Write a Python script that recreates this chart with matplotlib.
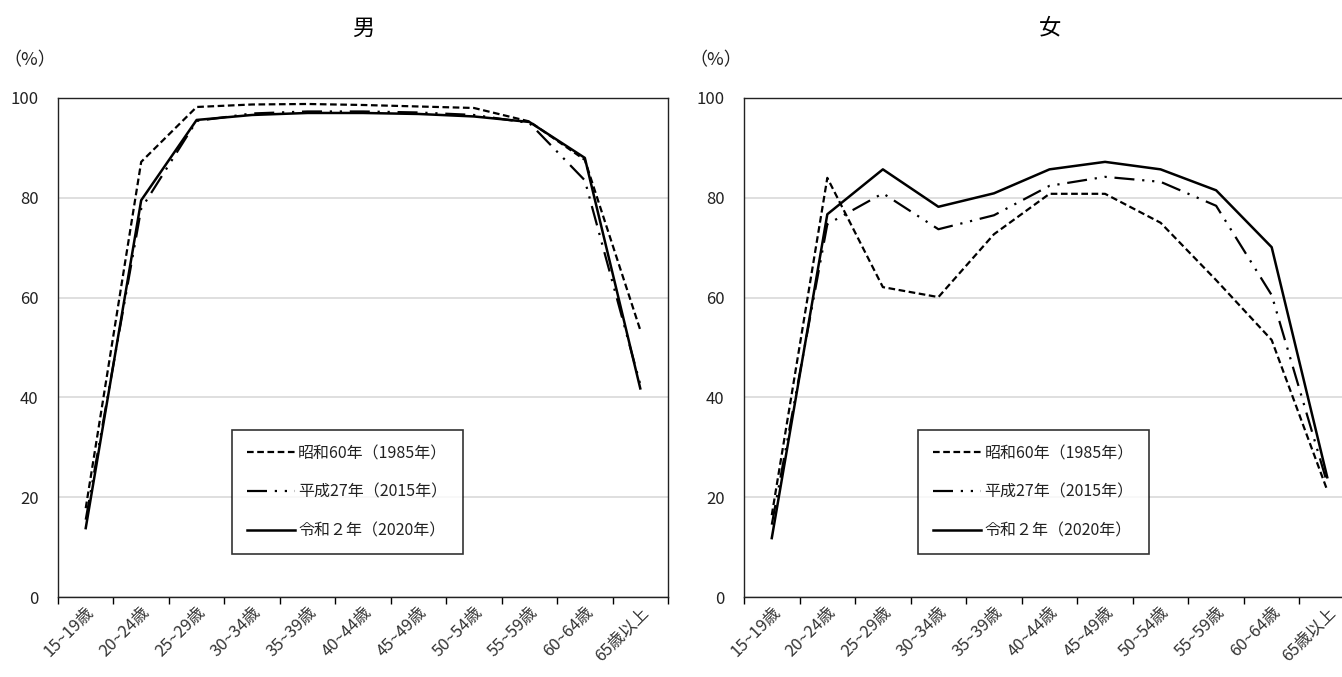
import matplotlib
matplotlib.use("Agg")
import matplotlib.pyplot as plt
import numpy as np

plt.rcParams['font.family'] = ['Noto Sans CJK JP', 'DejaVu Sans']

# age groups
ages = ["15~19歳", "20~24歳", "25~29歳", "30~34歳", "35~39歳", "40~44歳",
        "45~49歳", "50~54歳", "55~59歳", "60~64歳", "65歳以上"]

# labour force participation rate (%)
male_1985 = [17.8, 87.2, 98.2, 98.7, 98.8, 98.6, 98.3, 98.0, 95.3, 87.6, 53.5]
male_2015 = [15.5, 77.8, 95.4, 96.9, 97.3, 97.3, 97.1, 96.6, 95.0, 83.5, 42.6]
male_2020 = [13.8, 79.5, 95.6, 96.6, 97.0, 97.0, 96.8, 96.3, 95.2, 88.0, 41.8]

female_1985 = [16.4, 84.0, 62.1, 60.1, 72.7, 80.8, 80.8, 75.0, 63.5, 51.5, 21.4]
female_2015 = [14.5, 74.7, 80.9, 73.7, 76.5, 82.4, 84.2, 83.2, 78.4, 60.5, 22.8]
female_2020 = [11.8, 76.7, 85.7, 78.2, 80.9, 85.7, 87.2, 85.7, 81.5, 70.1, 24.0]

series_labels = ["昭和60年（1985年）", "平成27年（2015年）", "令和２年（2020年）"]
styles = [dict(linestyle=(0, (3, 1.6)), lw=1.6),
          dict(linestyle=(0, (9, 3.5, 1, 3.5, 1, 3.5)), lw=1.6),
          dict(linestyle='-', lw=1.8)]

W, H = 1342, 677
fig = plt.figure(figsize=(W / 100, H / 100), dpi=100)


def panel(left_px, right_px, data, title):
    ax = fig.add_axes([left_px / W, (H - 597) / H,
                       (right_px - left_px) / W, 499 / H])
    x = np.arange(len(ages))
    for vals, lab, st in zip(data, series_labels, styles):
        ax.plot(x, vals, color='black', label=lab, **st)

    ax.set_xlim(-0.5, len(ages) - 0.5)
    ax.set_ylim(0, 100)
    ax.set_yticks(range(0, 101, 20))
    ax.tick_params(axis='y', length=0, pad=14, labelsize=12, labelcolor='#222222')
    ax.yaxis.grid(True, color='#d9d9d9', lw=1.2)
    ax.set_axisbelow(True)

    # tick marks between categories, labels at category centres
    ax.set_xticks(np.arange(-0.5, len(ages), 1.0))
    ax.set_xticklabels([])
    ax.tick_params(axis='x', which='major', length=5, direction='out', width=1)
    ax.set_xticks(x, minor=True)
    ax.set_xticklabels(ages, minor=True, rotation=45, ha='right', va='top',
                       rotation_mode='anchor', fontsize=12, color='#333333')
    ax.tick_params(axis='x', which='minor', length=0, pad=5)

    for s in ax.spines.values():
        s.set_color('#222222')
        s.set_linewidth(1)

    leg = ax.legend(loc='upper left', bbox_to_anchor=(0.285, 0.335),
                    fontsize=11.5, frameon=True, fancybox=False,
                    edgecolor='black', handlelength=3.0, handletextpad=0.2,
                    labelspacing=1.35, borderpad=0.95, borderaxespad=0)
    leg.get_frame().set_linewidth(1.2)
    for t in leg.get_texts():
        t.set_color('#222222')

    cx = (left_px + right_px) / 2
    fig.text(cx / W, 1 - 28 / H, title, ha='center', va='center', fontsize=16)
    fig.text((left_px - 28) / W, 1 - 60 / H, "（%）", ha='center', va='center',
             fontsize=13, color='#222222')
    return ax


panel(58, 668, [male_1985, male_2015, male_2020], "男")
panel(744, 1355, [female_1985, female_2015, female_2020], "女")

fig.savefig("out.png", dpi=100)
